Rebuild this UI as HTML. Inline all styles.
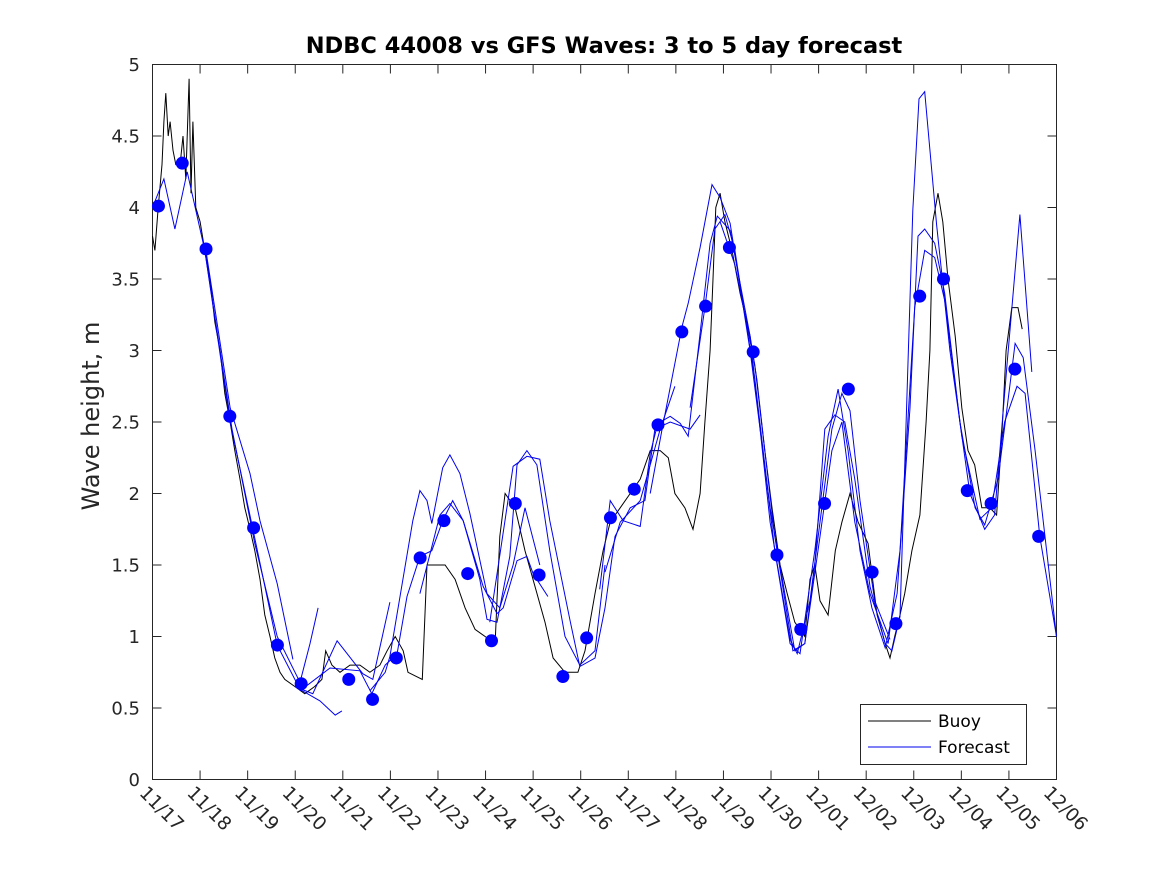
<!DOCTYPE html>
<html><head><meta charset="utf-8"><style>
body{margin:0;background:#fff}
svg{display:block;font-family:"DejaVu Sans","Liberation Sans",sans-serif}
</style></head><body>
<svg id="chart" width="1167" height="875" viewBox="0 0 1167 875" xmlns="http://www.w3.org/2000/svg">
<rect x="0" y="0" width="1167" height="875" fill="#fff"/>
<rect x="152.5" y="64.5" width="904" height="715" fill="#fff" stroke="#262626" stroke-width="1"/>
<text x="604" y="53" text-anchor="middle" font-size="22.5" font-weight="bold" fill="#000">NDBC 44008 vs GFS Waves: 3 to 5 day forecast</text>
<text transform="translate(99,416) rotate(-90)" text-anchor="middle" font-size="24" fill="#262626">Wave height, m</text>
<g id="yticks"></g><g id="xticks"></g>
<g id="series"></g>
<g>
<rect x="860.5" y="704.5" width="166" height="60" fill="#fff" stroke="#262626"/>
<line x1="868" y1="721" x2="931" y2="721" stroke="#000"/>
<text x="938" y="727" font-size="17" fill="#000">Buoy</text>
<line x1="868" y1="747" x2="931" y2="747" stroke="#0000ee"/>
<text x="938" y="753" font-size="17" fill="#000">Forecast</text>
</g>
</svg>
<script>
const xLabels=["11/17","11/18","11/19","11/20","11/21","11/22","11/23","11/24","11/25","11/26","11/27","11/28","11/29","11/30","12/01","12/02","12/03","12/04","12/05","12/06"];
const yTicks=[0,0.5,1,1.5,2,2.5,3,3.5,4,4.5,5];
const yTickLabels=["0","0.5","1","1.5","2","2.5","3","3.5","4","4.5","5"];
const buoyT=[0,0.05,0.12,0.20,0.24,0.28,0.33,0.37,0.43,0.49,0.58,0.64,0.70,0.77,0.81,0.85,0.91,1.00,1.10,1.21,1.31,1.42,1.52,1.63,1.73,1.84,1.94,2.05,2.15,2.26,2.36,2.47,2.57,2.68,2.78,2.99,3.20,3.41,3.56,3.64,3.77,3.94,4.15,4.36,4.57,4.78,4.93,5.10,5.27,5.37,5.67,5.77,5.94,6.15,6.36,6.57,6.78,6.99,7.20,7.30,7.41,7.62,7.83,8.04,8.25,8.42,8.67,8.94,9.09,9.30,9.47,9.62,9.83,10.04,10.25,10.46,10.67,10.84,10.98,11.19,11.36,11.51,11.61,11.72,11.78,11.84,11.93,12.03,12.18,12.35,12.56,12.70,12.87,13.02,13.19,13.34,13.50,13.71,13.82,13.92,14.03,14.20,14.35,14.49,14.66,14.83,15.04,15.23,15.40,15.50,15.60,15.71,15.81,15.96,16.13,16.26,16.34,16.40,16.51,16.61,16.72,16.87,17.01,17.14,17.28,17.43,17.60,17.74,17.85,17.94,18.06,18.19,18.28];
const buoyV=[3.8,3.7,4.0,4.3,4.6,4.8,4.5,4.6,4.4,4.3,4.3,4.5,4.2,4.9,4.1,4.6,4.0,3.9,3.7,3.5,3.2,3.0,2.7,2.5,2.3,2.1,1.9,1.75,1.6,1.4,1.15,1.0,0.85,0.75,0.7,0.65,0.6,0.65,0.7,0.9,0.8,0.75,0.8,0.8,0.75,0.8,0.9,1.0,0.9,0.75,0.7,1.5,1.5,1.5,1.4,1.2,1.05,1.0,0.95,1.7,2.0,1.9,1.6,1.35,1.1,0.85,0.75,0.75,0.9,1.3,1.6,1.8,1.9,2.0,2.1,2.3,2.3,2.25,2.0,1.9,1.75,2.0,2.5,3.0,3.5,4.0,4.1,3.9,3.7,3.4,3.1,2.8,2.3,1.9,1.5,1.3,1.1,1.0,1.4,1.5,1.25,1.15,1.6,1.8,2.0,1.8,1.65,1.15,0.95,0.85,1.0,1.15,1.3,1.6,1.85,2.5,3.0,3.9,4.1,3.9,3.5,3.1,2.6,2.3,2.2,1.9,1.9,1.85,2.4,3.0,3.3,3.3,3.15];
const runAT=[0,0.24,0.47,0.73,1.10,1.63,2.11,2.62,3.10,3.52,3.84,3.98];
const runAV=[4.0,4.2,3.85,4.25,3.7,2.5,1.75,0.94,0.63,0.55,0.45,0.48];
const runBT=[1.10,1.67,2.15,2.62,3.10,3.31,3.48];
const runBV=[3.7,2.45,1.65,1.0,0.68,0.95,1.2];
const runCT=[1.10,1.63,2.05,2.26,2.62,2.95];
const runCV=[3.75,2.6,2.14,1.81,1.37,0.84];
const runDT=[2.99,3.37,3.88,4.42,4.63,4.99];
const runDV=[0.65,0.6,0.97,0.74,0.7,1.24];
const runET=[3.10,3.73,4.36,4.61,4.89,5.14,5.35,5.62,5.87,6.10,6.31,6.53,6.95,7.24,7.37,7.66,7.87,8.00,8.31];
const runEV=[0.62,0.78,0.76,0.6,0.8,0.88,1.28,1.56,1.6,1.81,1.95,1.81,1.35,1.16,1.2,1.53,1.56,1.44,1.28];
const runFT=[4.57,4.89,4.99,5.47,5.62,5.77,5.87,6.10,6.25,6.46,6.67,7.03,7.30,7.58,7.83,8.14];
const runFV=[0.62,0.75,0.86,1.81,2.02,1.95,1.79,2.18,2.27,2.14,1.86,1.3,1.2,1.5,1.9,1.5];
const runGT=[5.62,6.04,6.25,6.53,6.88,7.03,7.24,7.51,7.66,7.87,8.08,8.35,8.67,8.98,9.30,9.51];
const runGV=[1.3,1.85,1.93,1.81,1.4,1.12,1.1,1.56,2.2,2.3,2.2,1.6,1.0,0.8,0.9,1.5];
const runHT=[7.09,7.58,7.87,8.14,8.35,8.77,8.98,9.30,9.51,9.72,10.04,10.35,10.56,10.88,11.30,11.51];
const runHV=[1.1,2.19,2.26,2.24,1.81,1.12,0.79,0.85,1.2,1.7,1.9,1.95,2.45,2.5,2.45,2.55];
const runIT=[9.40,9.62,9.89,10.25,10.46,10.62,10.88,11.09,11.26,11.51,11.72,11.87,12.14,12.56,12.98,13.40,13.55,13.82,14.03,14.28,14.49,14.66,14.87,15.18,15.50];
const runIV=[1.33,1.95,1.81,1.77,2.28,2.49,2.54,2.49,2.4,3.12,3.75,3.94,3.84,3.1,1.8,0.98,0.88,1.25,1.8,2.45,2.7,2.58,1.95,1.25,0.98];
const runJT=[9.51,9.83,10.25,10.67,10.98];
const runJV=[1.45,1.8,1.95,2.45,2.75];
const runKT=[10.46,10.71,11.13,11.26,11.51,11.76,11.93,12.14,12.56,12.98,13.29,13.50,13.71,13.92,14.13,14.34,14.55,14.76,15.08,15.40,15.54,15.71,15.98,16.11,16.23,16.48,16.76,17.18,17.49,17.70,17.96,18.23,18.48];
const runKV=[2.0,2.45,3.17,3.33,3.72,4.16,4.07,3.89,3.0,1.9,1.3,0.9,0.95,1.5,2.45,2.55,2.5,2.1,1.35,0.95,0.9,1.14,3.98,4.76,4.81,3.88,3.0,2.0,1.75,1.85,2.9,3.95,2.85];
const runLT=[11.30,11.61,11.82,12.03,12.24,12.66,13.08,13.40,13.61,13.92,14.20,14.41,14.62,14.87,15.12,15.40,15.65,15.92,16.09,16.23,16.44,16.65,16.97,17.29,17.49,17.77,17.98,18.13,18.30,18.55,19.0];
const runLV=[2.6,3.3,3.85,3.95,3.7,2.8,1.6,0.95,0.88,1.6,2.4,2.73,2.3,1.6,1.2,0.92,1.3,2.6,3.8,3.85,3.75,3.4,2.5,1.9,1.78,2.1,2.65,3.05,2.95,2.3,1.0];
const runMT=[11.93,12.24,12.66,13.08,13.46,13.71,14.03,14.28,14.49,14.76,15.08,15.46,15.71,16.02,16.23,16.44,16.65,17.01,17.39,17.64,17.91,18.17,18.34,18.65,19.0];
const runMV=[3.9,3.6,2.9,1.7,0.9,0.95,1.7,2.3,2.5,1.8,1.3,0.95,1.6,3.3,3.7,3.65,3.35,2.4,1.82,1.9,2.5,2.75,2.7,1.7,1.0];
const dotT0=0.125, dotStep=0.5;
const dotV=[4.01,4.31,3.71,2.54,1.76,0.94,0.67,null,0.70,0.56,0.85,1.55,1.81,1.44,0.97,1.93,1.43,0.72,0.99,1.83,2.03,2.48,3.13,3.31,3.72,2.99,1.57,1.05,1.93,2.73,1.45,1.09,3.38,3.50,2.02,1.93,2.87,1.70];

const NS="http://www.w3.org/2000/svg";
const X0=152.5,X1=1056.5,Y0=779.5,Y1=64.5,TMAX=19,VMAX=5;
const xs=t=>X0+(X1-X0)*t/TMAX;
const ys=v=>Y0-(Y0-Y1)*v/VMAX;
function mk(tag,attrs,parent){const e=document.createElementNS(NS,tag);for(const k in attrs)e.setAttribute(k,attrs[k]);parent.appendChild(e);return e;}
const yt=document.getElementById('yticks'),xt=document.getElementById('xticks'),sg=document.getElementById('series');
yTicks.forEach((v,i)=>{
  const y=ys(v);
  const l=mk('path',{d:`M${X0},${y}h9M${X1},${y}h-9`,stroke:'#262626',fill:'none'},yt);
  
  
  const t=mk('text',{x:140,y:y+6.5,'text-anchor':'end','font-size':18,fill:'#262626'},yt);
  t.textContent=yTickLabels[i];
  
  
});
xLabels.forEach((lab,i)=>{
  const x=xs(i);
  const l=mk('path',{d:`M${x},${Y0}v-9M${x},${Y1}v9`,stroke:'#262626',fill:'none'},xt);
  
  
  const t=mk('text',{transform:`translate(${x-14},${794}) rotate(45)`,'font-size':18.5,fill:'#262626'},xt);
  t.textContent=lab;
  
  
});
function line(T,V,color,name){
  const d=T.map((t,i)=>(i?'L':'M')+xs(t).toFixed(1)+','+ys(V[i]).toFixed(1)).join('');
  const p=mk('path',{d:d,stroke:color,fill:'none','stroke-width':1},sg);
  
  
}
line(buoyT,buoyV,'#000','buoy-line');
line(runAT,runAV,'#0000ee','forecast-run-a');
line(runBT,runBV,'#0000ee','forecast-run-b');
line(runCT,runCV,'#0000ee','forecast-run-c');
line(runDT,runDV,'#0000ee','forecast-run-d');
line(runET,runEV,'#0000ee','forecast-run-e');
line(runFT,runFV,'#0000ee','forecast-run-f');
line(runGT,runGV,'#0000ee','forecast-run-g');
line(runHT,runHV,'#0000ee','forecast-run-h');
line(runIT,runIV,'#0000ee','forecast-run-i');
line(runJT,runJV,'#0000ee','forecast-run-j');
line(runKT,runKV,'#0000ee','forecast-run-k');
line(runLT,runLV,'#0000ee','forecast-run-l');
line(runMT,runMV,'#0000ee','forecast-run-m');
dotV.forEach((v,k)=>{
  if(v===null)return;
  const c=mk('circle',{cx:xs(dotT0+dotStep*k),cy:ys(v),r:6.5,fill:'#0000ff'},sg);
  
  
});
</script>
</body></html>
